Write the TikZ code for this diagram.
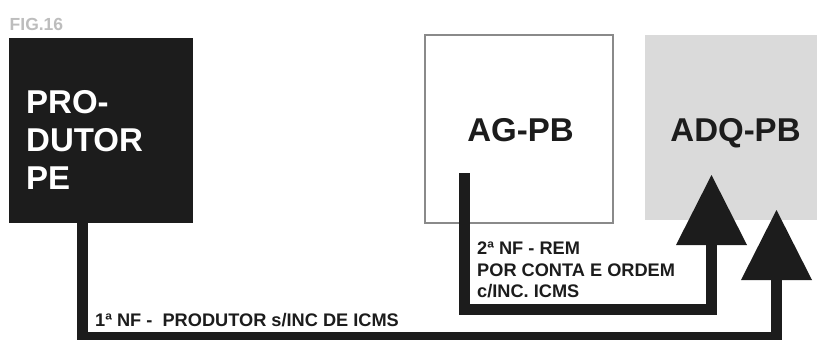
\documentclass[tikz,border=0pt]{standalone}
\usepackage{fontspec}
\setmainfont{Liberation Sans}
\usetikzlibrary{arrows.meta}
\definecolor{ink}{HTML}{1C1C1C}
\definecolor{adqfill}{HTML}{DADADA}
\definecolor{agline}{HTML}{8A8A8A}
\definecolor{figgray}{HTML}{BDBDBD}
\tikzset{
  prodbox/.style={rectangle, fill=ink, draw=none, inner sep=0pt},
  agbox/.style={rectangle, fill=white, draw=agline, line width=1.2pt, inner sep=0pt},
  adqbox/.style={rectangle, fill=adqfill, draw=none, inner sep=0pt},
  bigtxt/.style={font=\bfseries\fontsize{33}{38}\selectfont, text=ink, inner sep=0pt},
  lbl/.style={font=\bfseries\fontsize{18.2}{21.5}\selectfont, text=ink, inner sep=0pt, align=left},
  flow/.style={draw=ink, line width=11pt, line join=miter,
    -{Triangle[length=70pt 0 0, width=71pt 0 0, line width=0pt]}},
}
\begin{document}
\begin{tikzpicture}[x=1pt, y=-1pt]
\useasboundingbox (0,0) rectangle (817,340);
% boxes
\node[prodbox, minimum width=184pt, minimum height=185pt] (prod) at (101,130.5) {};
\node[agbox, minimum width=188pt, minimum height=188pt] (ag) at (519,129) {};
\node[adqbox, minimum width=172pt, minimum height=185pt] (adq) at (731,127.5) {};
% texts
\node[anchor=base west, inner sep=0pt, text=figgray, font=\bfseries\fontsize{17.5}{20}\selectfont] (fig) at (9.5,30.5) {FIG.16};
\node[bigtxt, text=white, align=left, anchor=north west] (prodtxt) at (26,90) {PRO-\\DUTOR\\PE};
\node[bigtxt] (agtxt) at (520.5,130.5) {AG-PB};
\node[bigtxt] (adqtxt) at (735.5,133) {ADQ-PB};
% connector coordinates
\coordinate (p1) at (82,337);
\coordinate (p2) at (776.5,337);
\coordinate (t1) at (776.5,210);
\coordinate (agout) at (464.5,173);
\coordinate (q1) at (464.5,309.5);
\coordinate (q2) at (711.5,309.5);
\coordinate (t2) at (711.5,175);
% connectors
\draw[flow] (prod.south -| p1) -- (p1) -- (p2) -- (t1);
\draw[flow] (agout) -- (q1) -- (q2) -- (t2);
% labels
\node[lbl, anchor=base west] (lbl1) at (95,326) {1ª NF -\ \ PRODUTOR s/INC DE ICMS};
\node[lbl, anchor=north west] (lbl2) at (477,242) {2ª NF - REM\\POR CONTA E ORDEM\\c/INC. ICMS};
\end{tikzpicture}
\end{document}
